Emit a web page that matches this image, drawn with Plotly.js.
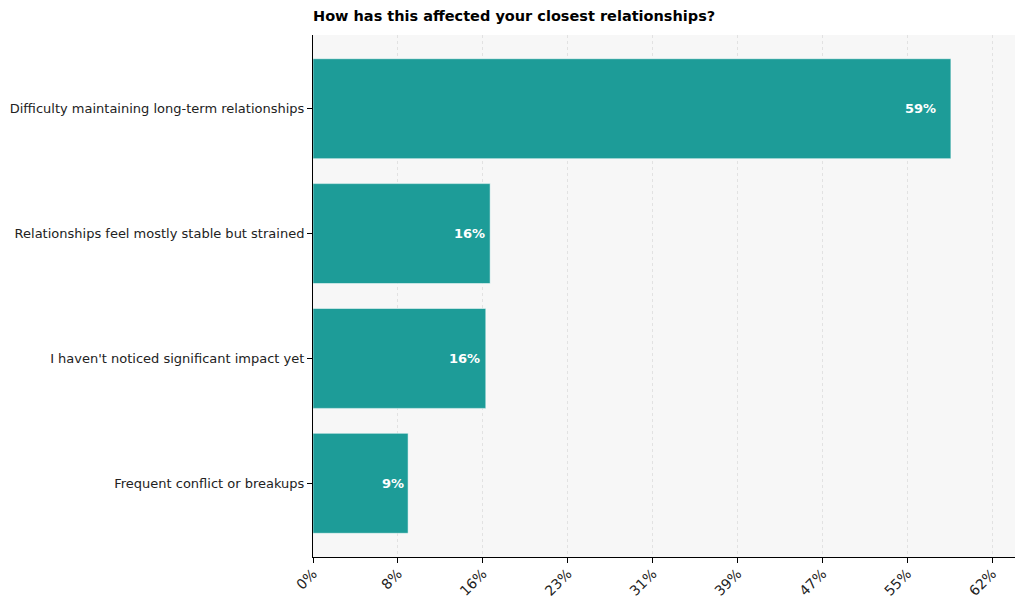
<!DOCTYPE html>
<html>
<head>
<meta charset="utf-8">
<script src="https://cdn.plot.ly/plotly-3.0.1.min.js"></script>
<style>html,body{margin:0;padding:0;background:#fff;}#chart{width:1024px;height:610px;}</style>
</head>
<body>
<div id="chart"></div>
<script>
const categories = [
  "Difficulty maintaining long-term relationships",
  "Relationships feel mostly stable but strained",
  "I haven't noticed significant impact yet",
  "Frequent conflict or breakups"
];
const values = [58.7, 16.3, 15.9, 8.75];
const valueLabels = ["59%", "16%", "16%", "9%"];
const tickVals = [0, 7.8125, 15.625, 23.4375, 31.25, 39.0625, 46.875, 54.6875, 62.5];
const tickLabels = ["0%", "8%", "16%", "23%", "31%", "39%", "47%", "55%", "62%"];
const titleText = "How has this affected your closest relationships?";

const font = "DejaVu Sans, sans-serif";
const trace = {
  type: "bar",
  orientation: "h",
  x: values,
  y: categories,
  marker: {color: "#1d9c98", line: {color: "#ffffff", width: 0.5}},
  width: 0.8,
  hoverinfo: "none"
};
const annotations = values.map((v, i) => ({
  x: v * 0.98, y: categories[i], xref: "x", yref: "y",
  text: valueLabels[i], showarrow: false,
  xanchor: "right",
  font: {family: font, size: 13, color: "#ffffff", weight: "bold"}
}));
const layout = {
  width: 1024, height: 610,
  margin: {l: 313, r: 9, t: 35, b: 53},
  paper_bgcolor: "#ffffff",
  plot_bgcolor: "#f7f7f7",
  showlegend: false,
  title: {text: "<b>" + titleText + "</b>", x: 313/1024, xanchor: "left", xref: "container",
          y: 1 - 16/610, yref: "container", yanchor: "middle",
          font: {family: font, size: 14.5, color: "#000000"}},
  xaxis: {
    range: [0, 64.6],
    tickvals: tickVals, ticktext: tickLabels,
    tickangle: -45,
    ticks: "outside", ticklen: 5, tickcolor: "#000", tickwidth: 1,
    ticklabelstandoff: -3,
    showline: true, linecolor: "#000", linewidth: 1,
    showgrid: true, gridcolor: "#e2e2e2", griddash: "dot", gridwidth: 1,
    zeroline: false,
    tickfont: {family: font, size: 14, color: "#222"}
  },
  yaxis: {
    autorange: false,
    range: [3.59, -0.59],
    type: "category",
    categoryorder: "array", categoryarray: categories,
    ticks: "outside", ticklen: 5, tickcolor: "#000",
    showline: true, linecolor: "#000", linewidth: 1,
    showgrid: false, zeroline: false,
    tickfont: {family: font, size: 13, color: "#222"}
  },
  annotations: annotations
};
Plotly.newPlot("chart", [trace], layout, {staticPlot: true, displayModeBar: false});
</script>
</body>
</html>
